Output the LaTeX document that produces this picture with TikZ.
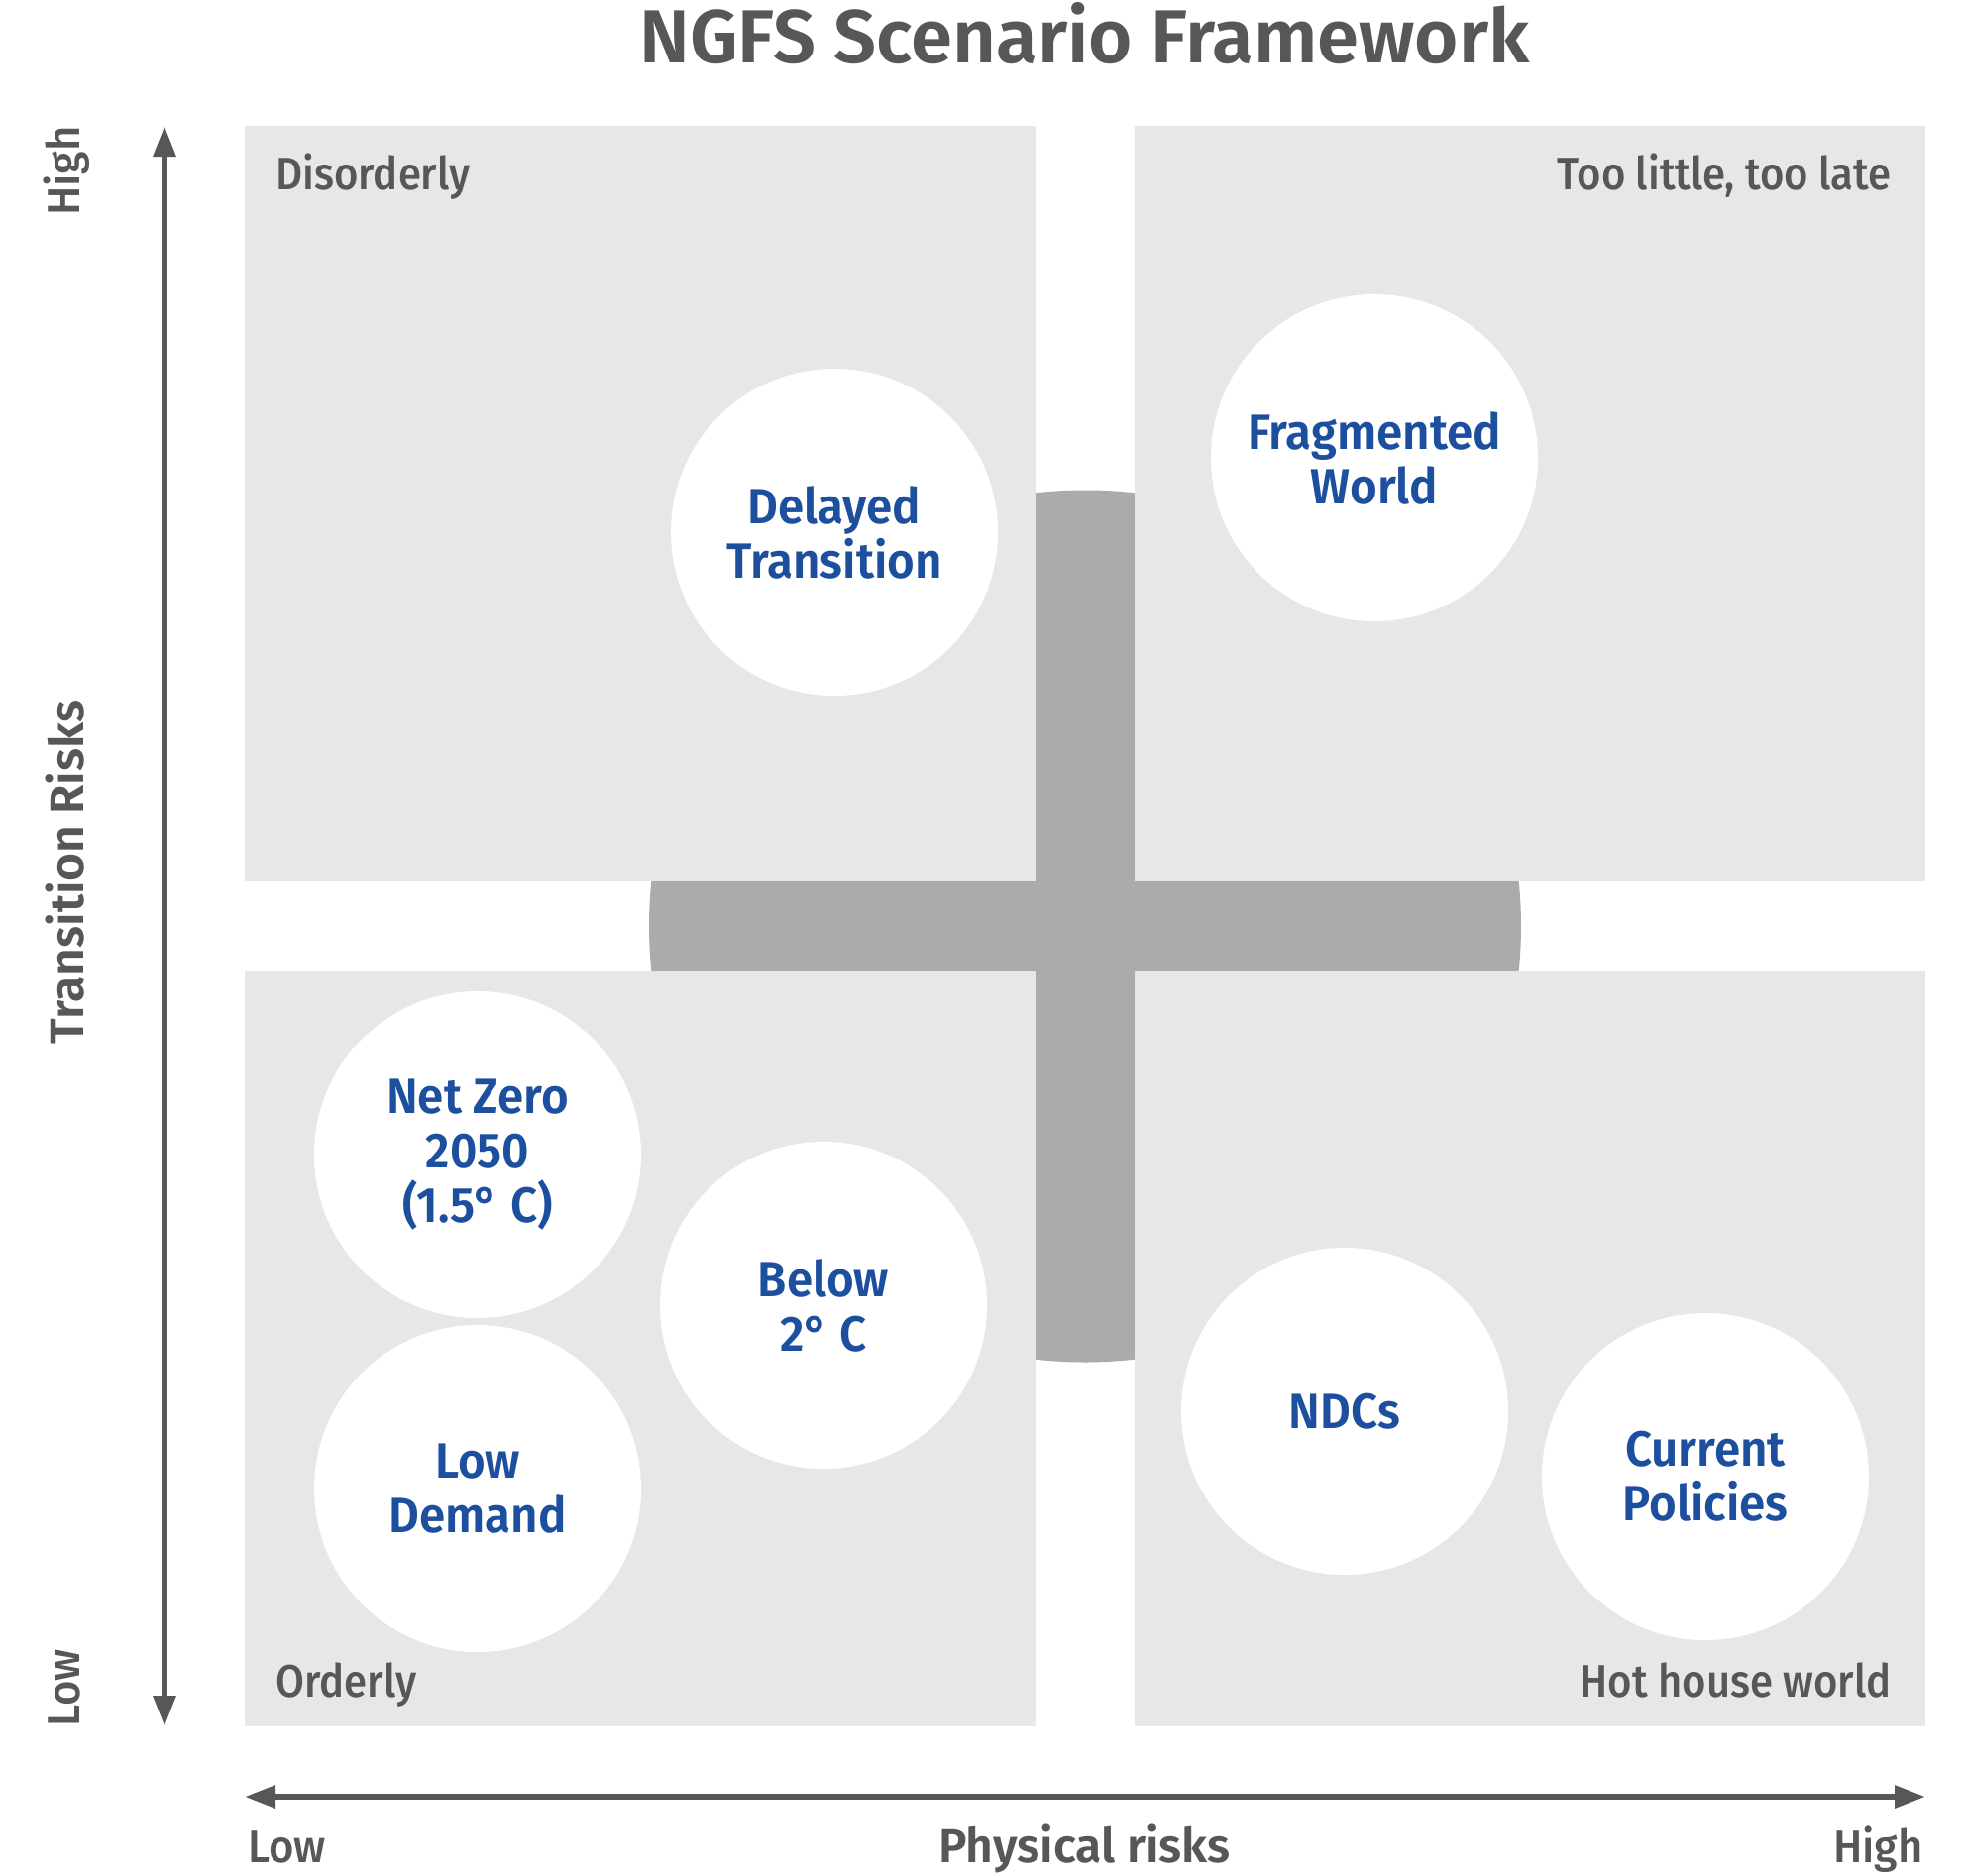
\documentclass[tikz,border=0pt]{standalone}
\usepackage{fontspec}
\setmainfont{Fira Sans}
\newfontfamily\firasemi{Fira Sans SemiBold}
\newfontfamily\scenfont[FakeStretch=0.95]{Fira Sans SemiBold}
\newfontfamily\cornerfont[FakeStretch=0.91]{Fira Sans Medium}
\newfontfamily\firamed[FakeStretch=0.95]{Fira Sans Medium}
\usetikzlibrary{positioning,arrows.meta,calc}

\definecolor{quadgray}{HTML}{E6E7E8}
\definecolor{hubgray}{HTML}{ABABAB}
\definecolor{labelgray}{HTML}{575757}
\definecolor{scenblue}{HTML}{1D4F9F}

\pgfdeclarelayer{background}
\pgfsetlayers{background,main}

\tikzset{
  quad/.style={fill=quadgray, minimum width=399pt, minimum height=381pt, inner sep=0pt, outer sep=0pt},
  scen/.style={circle, fill=white, minimum size=165pt, inner sep=0pt, text=scenblue, align=center,
    font=\scenfont\fontsize{25}{27.5}\selectfont},
  cornerlbl/.style={text=labelgray, inner sep=0pt, font=\cornerfont\fontsize{23}{27}\selectfont},
  axislbl/.style={text=labelgray, inner sep=0pt, font=\firamed\fontsize{23}{27}\selectfont},
  axistitle/.style={text=labelgray, inner sep=0pt, font=\firasemi\fontsize{24}{28}\selectfont},
  axis/.style={draw=labelgray, line width=3pt,
    {Triangle[length=15.5pt,width=11pt]}-{Triangle[length=15.5pt,width=11pt]}},
}

\begin{document}
\begin{tikzpicture}[x=0.5pt, y=-0.5pt]
\useasboundingbox (0,0) rectangle (1983,1892);

\node[text=labelgray, inner sep=0pt, anchor=base, font=\firasemi\fontsize{38}{42}\selectfont]
  (title) at (1094.5,63) {NGFS Scenario Framework};

% quadrants
\node[quad, anchor=north west] (tl) at (247,127) {};
\node[quad, right=50pt of tl] (tr) {};
\node[quad, below=45.5pt of tl] (bl) {};
\node[quad, right=50pt of bl] (br) {};

% grey disc behind the quadrants, shows through the gaps as a cross
\begin{pgfonlayer}{background}
  \fill[white] (0,0) rectangle (1983,1892);
  \node[circle, fill=hubgray, minimum size=440pt, inner sep=0pt]
    (hub) at ($(tl.south east)!.5!(br.north west)$) {};
\end{pgfonlayer}

\node[cornerlbl, anchor=base west] (disorderly) at ([shift={(31,64)}]tl.north west) {Disorderly};
\node[cornerlbl, anchor=base east] (toolittle) at ([shift={(-34,64)}]tr.north east) {Too little, too late};
\node[cornerlbl, anchor=base west] (orderly) at ([shift={(31,-30)}]bl.south west) {Orderly};
\node[cornerlbl, anchor=base east] (hothouse) at ([shift={(-34,-30)}]br.south east) {Hot house world};

% scenarios
\node[scen] (delayed) at (842,537) {Delayed\\Transition};
\node[scen] (fragmented) at (1387,462) {Fragmented\\World};
\node[scen] (netzero) at (482,1165) {Net Zero\\2050\\(1.5° C)};
\node[scen] (below2) at (831,1317) {Below\\2° C};
\node[scen] (lowdemand) at (482,1502) {Low\\Demand};
\node[scen] (ndcs) at (1357,1424) {NDCs};
\node[scen] (current) at (1721,1490) {Current\\Policies};

% axes
\coordinate (ytop) at ([xshift=-40.5pt]tl.north west);
\coordinate (ybot) at ([xshift=-40.5pt]bl.south west);
\coordinate (xleft) at ([yshift=-35.5pt]bl.south west);
\coordinate (xright) at ([yshift=-35.5pt]br.south east);
\draw[axis] (ybot) -- (ytop);
\draw[axis] (xleft) -- (xright);

\node[axislbl, rotate=90, anchor=base east] (yhigh) at (80,127) {High};
\node[axislbl, rotate=90, anchor=base west] (ylow) at (80,1743) {Low};
\node[axistitle, rotate=90, anchor=base] (ytitle) at (84,880) {Transition Risks};
\node[axislbl, anchor=base west] (xlow) at (250,1879) {Low};
\node[axislbl, anchor=base east] (xhigh) at (1941,1879) {High};
\node[axistitle, anchor=base] (xtitle) at (1094.5,1879) {Physical risks};
\end{tikzpicture}
\end{document}
